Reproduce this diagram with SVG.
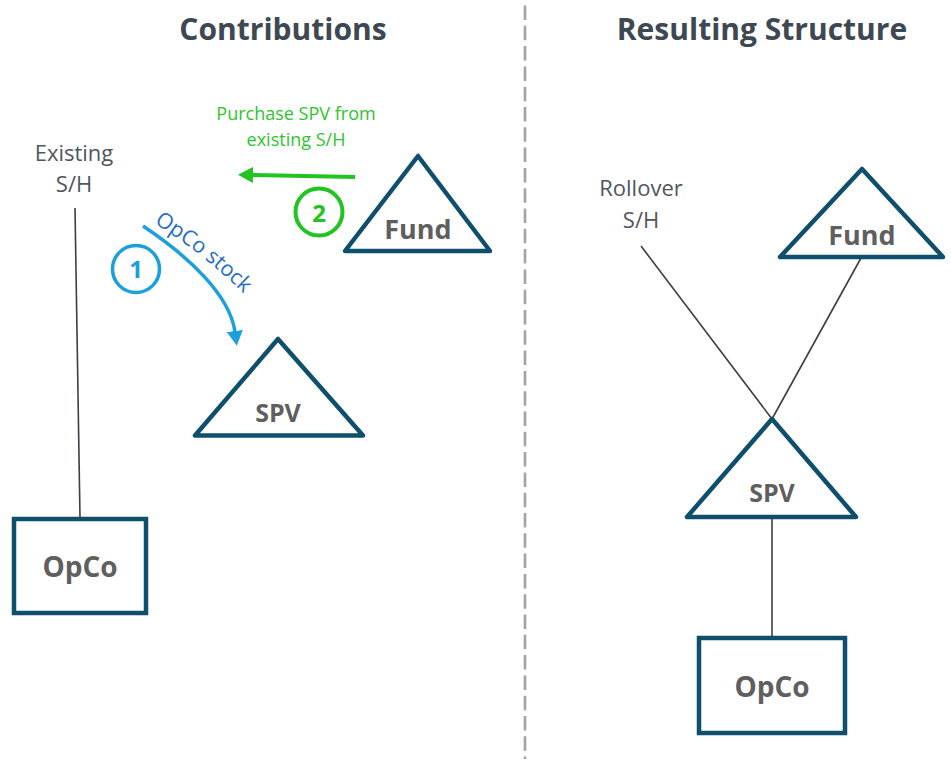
<svg xmlns="http://www.w3.org/2000/svg" width="951" height="759" viewBox="0 0 951 759">
  <style>
    text { font-family: "Open Sans", "Noto Sans", "DejaVu Sans", sans-serif; text-anchor: middle; }
    .title { font-size: 30px; font-weight: bold; fill: #3e4852; }
    .holder { font-size: 22px; fill: #4f565d; }
    .node-label { font-weight: bold; fill: #5f5f5f; }
    .tri { fill: #ffffff; stroke: #0f4f6e; stroke-width: 4.5; stroke-linejoin: round; }
    .box { fill: #ffffff; stroke: #0f4f6e; stroke-width: 4.5; }
    .link { stroke: #3b3f44; stroke-width: 1.6; fill: none; }
    .divider { stroke: #a3a3a3; stroke-width: 2.6; stroke-dasharray: 14.5 5.8; }
  </style>
  <defs>
    <marker id="arrow-blue" markerUnits="userSpaceOnUse" markerWidth="16" markerHeight="16" viewBox="0 0 16 16" refX="1" refY="8" orient="auto">
      <path d="M0,0 L15,8 L0,16 Z" fill="#1aa0dd"/>
    </marker>
    <marker id="arrow-green" markerUnits="userSpaceOnUse" markerWidth="16" markerHeight="16" viewBox="0 0 16 16" refX="1" refY="8" orient="auto">
      <path d="M0,0 L15,8 L0,16 Z" fill="#21c421"/>
    </marker>
    <path id="stock-path" d="M154,223 Q206,255 252,302"/>
  </defs>

  <rect width="951" height="759" fill="#ffffff"/>

  <!-- section titles and divider -->
  <text class="title" x="283" y="40">Contributions</text>
  <text class="title" x="762" y="40">Resulting Structure</text>
  <line class="divider" x1="525" y1="5.5" x2="525" y2="759"/>

  <!-- connectors -->
  <g id="connectors">
    <line class="link" x1="75" y1="208" x2="80" y2="518"/>
    <line class="link" x1="641" y1="246" x2="772" y2="419"/>
    <line class="link" x1="861" y1="258" x2="772" y2="419"/>
    <line class="link" x1="772" y1="517" x2="772" y2="638"/>

    <!-- step 1: OpCo stock into SPV -->
    <path d="M143,226 C188,256 230,295 235,332" fill="none" stroke="#1aa0dd" stroke-width="3.5" marker-end="url(#arrow-blue)"/>
    <text font-size="21.5" fill="#1f6fc9" style="text-anchor:start"><textPath href="#stock-path">OpCo stock</textPath></text>

    <!-- step 2: fund purchases SPV -->
    <line x1="355" y1="177" x2="252" y2="175" stroke="#21c421" stroke-width="4" marker-end="url(#arrow-green)"/>
    <text font-size="18" fill="#2dc52d"><tspan x="296" y="120">Purchase SPV from</tspan><tspan x="296" y="146">existing S/H</tspan></text>
  </g>

  <!-- step markers -->
  <g id="step-1">
    <circle cx="136" cy="269" r="23.5" fill="none" stroke="#1aa0dd" stroke-width="3.5"/>
    <text x="136" y="278" font-size="24" font-weight="bold" fill="#1aa0dd">1</text>
  </g>
  <g id="step-2">
    <circle cx="319" cy="212" r="23.5" fill="none" stroke="#21c421" stroke-width="4"/>
    <text x="319" y="222" font-size="24" font-weight="bold" fill="#21c421">2</text>
  </g>

  <!-- contributions side -->
  <g id="existing-sh">
    <text class="holder"><tspan x="74" y="161">Existing</tspan><tspan x="74" y="192">S/H</tspan></text>
  </g>
  <g id="fund-left">
    <polygon class="tri" points="418,156 345,251 490,251"/>
    <text class="node-label" x="418" y="239" font-size="27">Fund</text>
  </g>
  <g id="spv-left">
    <polygon class="tri" points="278,339 195,435.5 363,435.5"/>
    <text class="node-label" x="278" y="422" font-size="25">SPV</text>
  </g>
  <g id="opco-left">
    <rect class="box" x="14" y="519" width="132" height="94"/>
    <text class="node-label" x="80" y="577" font-size="28">OpCo</text>
  </g>

  <!-- resulting structure side -->
  <g id="rollover-sh">
    <text class="holder"><tspan x="641" y="196">Rollover</tspan><tspan x="641" y="228">S/H</tspan></text>
  </g>
  <g id="fund-right">
    <polygon class="tri" points="862,169 780,257 943,257"/>
    <text class="node-label" x="862" y="245" font-size="27">Fund</text>
  </g>
  <g id="spv-right">
    <polygon class="tri" points="772,419 687,517 856,517"/>
    <text class="node-label" x="772" y="502" font-size="25">SPV</text>
  </g>
  <g id="opco-right">
    <rect class="box" x="699" y="638" width="146" height="95"/>
    <text class="node-label" x="772" y="697" font-size="28">OpCo</text>
  </g>
</svg>
